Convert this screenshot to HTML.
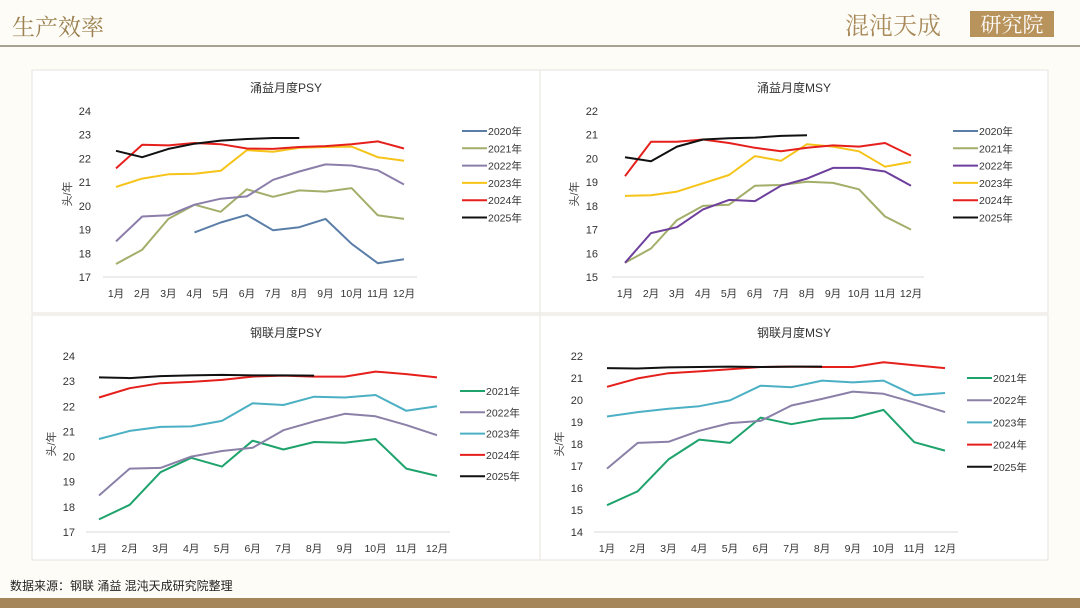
<!DOCTYPE html>
<html><head><meta charset="utf-8"><style>
body{margin:0;width:1080px;height:608px;background:#fdfcf7;font-family:"Liberation Sans","Noto Sans CJK SC",sans-serif;overflow:hidden;position:relative}
svg{position:absolute;left:0;top:0}
</style></head><body>
<svg id="s" width="1080" height="608">
<text x="12" y="35" font-size="23" fill="#9c8050" font-family="Noto Serif CJK SC, serif">生产效率</text>
<line x1="0" y1="46" x2="1080" y2="46" stroke="#a8a294" stroke-width="2"/>
<text x="845" y="34" font-size="24" fill="#a88a5a" font-family="Noto Serif CJK SC, serif">混沌天成</text>
<rect x="970" y="11" width="84" height="26" fill="#b8935c"/>
<text x="1012" y="32" font-size="21" fill="#fff" text-anchor="middle" font-family="Noto Serif CJK SC, serif">研究院</text>
<text x="10" y="590" font-size="12" fill="#222">数据来源：钢联 涌益 混沌天成研究院整理</text>
<rect x="0" y="598" width="1080" height="10" fill="#a5865a"/>
</svg>
<script>
const months=["1月","2月","3月","4月","5月","6月","7月","8月","9月","10月","11月","12月"];
const c1Years=["2020年","2021年","2022年","2023年","2024年","2025年"];
const c1Ticks=[17,18,19,20,21,22,23,24];
const c1_2020=[null,null,null,18.88,19.3,19.62,18.97,19.1,19.45,18.4,17.58,17.75];
const c1_2021=[17.55,18.15,19.45,20.05,19.75,20.7,20.38,20.65,20.6,20.75,19.6,19.45];
const c1_2022=[18.5,19.55,19.6,20.05,20.3,20.4,21.1,21.45,21.75,21.7,21.5,20.9];
const c1_2023=[20.8,21.15,21.33,21.35,21.48,22.35,22.28,22.45,22.48,22.5,22.05,21.9];
const c1_2024=[21.58,22.58,22.55,22.65,22.6,22.42,22.4,22.48,22.52,22.6,22.72,22.42];
const c1_2025=[22.32,22.05,22.4,22.62,22.75,22.82,22.86,22.86];
const c2Ticks=[15,16,17,18,19,20,21,22];
const c2_2020=[];
const c2_2021=[15.6,16.2,17.4,18.0,18.05,18.85,18.88,19.02,18.97,18.7,17.55,17.0];
const c2_2022=[15.6,16.85,17.1,17.85,18.25,18.2,18.85,19.15,19.6,19.6,19.45,18.85];
const c2_2023=[18.42,18.45,18.6,18.95,19.3,20.1,19.9,20.6,20.5,20.3,19.65,19.85];
const c2_2024=[19.25,20.7,20.7,20.8,20.65,20.45,20.3,20.45,20.55,20.5,20.65,20.12];
const c2_2025=[20.05,19.88,20.5,20.8,20.85,20.88,20.95,20.98];
const c3Years=["2021年","2022年","2023年","2024年","2025年"];
const c3Ticks=[17,18,19,20,21,22,23,24];
const c3_2021=[17.5,18.08,19.38,19.95,19.6,20.63,20.28,20.58,20.55,20.7,19.52,19.23];
const c3_2022=[18.45,19.52,19.55,20.0,20.22,20.35,21.05,21.4,21.7,21.6,21.25,20.85];
const c3_2023=[20.7,21.02,21.18,21.2,21.42,22.12,22.05,22.38,22.35,22.45,21.82,22.0];
const c3_2024=[22.35,22.72,22.92,22.97,23.05,23.18,23.22,23.18,23.18,23.38,23.28,23.15];
const c3_2025=[23.15,23.12,23.2,23.23,23.25,23.23,23.23,23.22];
const c4Ticks=[14,15,16,17,18,19,20,21,22];
const c4_2021=[15.22,15.85,17.3,18.2,18.05,19.2,18.9,19.15,19.18,19.55,18.08,17.7];
const c4_2022=[16.88,18.05,18.1,18.6,18.95,19.05,19.75,20.05,20.38,20.28,19.88,19.45];
const c4_2023=[19.25,19.45,19.6,19.72,19.98,20.65,20.58,20.88,20.8,20.88,20.22,20.32];
const c4_2024=[20.6,20.98,21.22,21.3,21.4,21.5,21.52,21.5,21.5,21.72,21.58,21.45];
const c4_2025=[21.45,21.43,21.48,21.5,21.52,21.5,21.52,21.52];

const NS="http://www.w3.org/2000/svg";
const svg=document.getElementById('s');
function mk(tag,attrs,parent){const e=document.createElementNS(NS,tag);for(const k in attrs)e.setAttribute(k,attrs[k]);(parent||svg).appendChild(e);return e;}
function chart(cfg){
  const g=mk('g',{});
  
  
  const panel=mk('rect',{x:cfg.px,y:cfg.py,width:cfg.pw,height:cfg.ph,fill:'#fff',stroke:'#e6e3dc'},g);
  
  
  const t=mk('text',{x:cfg.px+cfg.pw/2,y:cfg.py+22,'font-size':12,'text-anchor':'middle',fill:'#333'},g);
  t.textContent=cfg.title;
  
  
  const lo=cfg.ticks[0],hi=cfg.ticks[cfg.ticks.length-1];
  const y=v=>cfg.yb-(v-lo)/(hi-lo)*(cfg.yb-cfg.yt);
  const x=i=>cfg.x0+i*(cfg.x1-cfg.x0)/11;
  cfg.ticks.forEach(v=>{const e=mk('text',{x:cfg.tx,y:y(v)+4,'font-size':11,'text-anchor':'end',fill:'#333'},g);e.textContent=v;
    
    });
  const ax=mk('line',{x1:x(0)-13,x2:x(11)+13,y1:cfg.yb,y2:cfg.yb,stroke:'#d9d9d9'},g);
  
  
  months.forEach((m,i)=>{const e=mk('text',{x:x(i),y:cfg.yb+20,'font-size':10.5,'text-anchor':'middle',fill:'#333'},g);e.textContent=m;
    
    });
  const yt=mk('text',{x:0,y:0,'font-size':11,fill:'#444','text-anchor':'middle',transform:`translate(${cfg.tx-20},${(cfg.yt+cfg.yb)/2}) rotate(-90)`},g);
  yt.textContent='头/年';
  
  
  cfg.series.forEach((s,k)=>{
    let d='';let pen=false;
    s.data.forEach((v,i)=>{if(v==null){pen=false;return;}d+=(pen?'L':'M')+x(i).toFixed(1)+' '+y(v).toFixed(1);pen=true;});
    if(d){const p=mk('path',{d:d,fill:'none',stroke:s.color,'stroke-width':2,'stroke-linejoin':'round'},g);
      
      }
    const ly=cfg.ly+k*cfg.ls;
    const ll=mk('line',{x1:cfg.lx,x2:cfg.lx+25,y1:ly,y2:ly,stroke:s.color,'stroke-width':2},g);
    
    
    const lt=mk('text',{x:cfg.lx+26,y:ly+4,'font-size':10.5,fill:'#333'},g);
    lt.textContent=s.label;
    
    
  });
}
const top1=[['#5a7ea8',c1_2020],['#a3ae6a',c1_2021],['#8c7eaa',c1_2022],['#f6c419',c1_2023],['#e5201c',c1_2024],['#111',c1_2025]];
chart({name:'yongyi-psy-chart',title:'涌益月度PSY',px:32,py:70,pw:508,ph:243,ticks:c1Ticks,yt:111,yb:277,x0:116,x1:404,tx:91,lx:462,ly:131,ls:17.3,
  series:top1.map((a,i)=>({color:a[0],data:a[1],label:c1Years[i]}))});
const top2=[['#5a7ea8',c2_2020],['#a3ae6a',c2_2021],['#6e3f9c',c2_2022],['#f6c419',c2_2023],['#e5201c',c2_2024],['#111',c2_2025]];
chart({name:'yongyi-msy-chart',title:'涌益月度MSY',px:540,py:70,pw:508,ph:243,ticks:c2Ticks,yt:111,yb:277,x0:625,x1:911,tx:598,lx:953,ly:131,ls:17.3,
  series:top2.map((a,i)=>({color:a[0],data:a[1],label:c1Years[i]}))});
const bot1=[['#1ea36c',c3_2021],['#8b80a8',c3_2022],['#4cb0c4',c3_2023],['#e5201c',c3_2024],['#111',c3_2025]];
chart({name:'ganglian-psy-chart',title:'钢联月度PSY',px:32,py:315,pw:508,ph:245,ticks:c3Ticks,yt:356,yb:532,x0:99,x1:437,tx:75,lx:460,ly:391,ls:21.3,
  series:bot1.map((a,i)=>({color:a[0],data:a[1],label:c3Years[i]}))});
const bot2=[['#1ea36c',c4_2021],['#8b80a8',c4_2022],['#4cb0c4',c4_2023],['#e5201c',c4_2024],['#111',c4_2025]];
chart({name:'ganglian-msy-chart',title:'钢联月度MSY',px:540,py:315,pw:508,ph:245,ticks:c4Ticks,yt:356,yb:532,x0:607,x1:945,tx:583,lx:967,ly:378,ls:22.2,
  series:bot2.map((a,i)=>({color:a[0],data:a[1],label:c3Years[i]}))});
</script>
</body></html>
